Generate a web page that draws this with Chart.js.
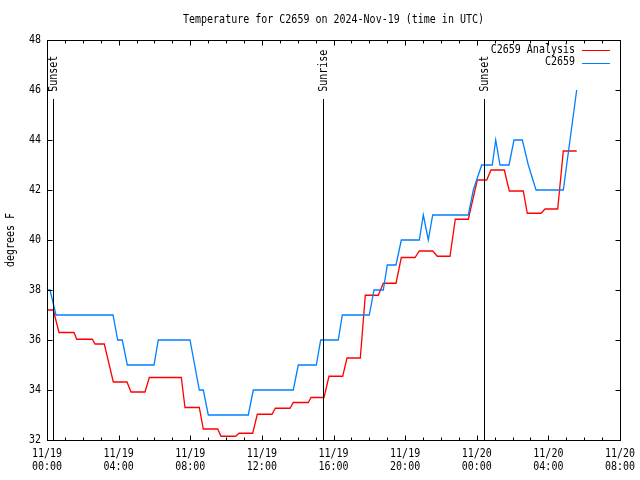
<!DOCTYPE html>
<html><head><meta charset="utf-8">
<script src="https://cdn.jsdelivr.net/npm/chart.js@4/dist/chart.umd.min.js"></script>
<style>html,body{margin:0;padding:0;background:#fff;}canvas{display:block;}</style>
</head><body>
<canvas id="c" width="640" height="480"></canvas>
<script>
// ---- data ----
const chartTitle = 'Temperature for C2659 on 2024-Nov-19 (time in UTC)';
const yAxisLabel = 'degrees F';
const seriesNames = ['C2659 Analysis', 'C2659'];

const analysisHours = [0, 0.352, 0.670, 1.508, 1.659, 2.530, 2.681, 3.200, 3.703, 4.468, 4.691, 5.473, 5.713, 7.500, 7.707, 8.505, 8.729, 9.533, 9.717, 10.538, 10.722, 11.488, 11.745, 12.566, 12.750, 13.571, 13.755, 14.593, 14.744, 15.470, 15.749, 16.514, 16.754, 17.497, 17.776, 18.502, 18.781, 19.491, 19.787, 20.552, 20.792, 21.540, 21.797, 22.506, 22.802, 23.528, 24.031, 24.556, 24.796, 25.539, 25.818, 26.600, 26.823, 27.588, 27.812, 28.521, 28.834, 29.582];
const analysisTemps = [37.2, 37.2, 36.3, 36.3, 36.03, 36.03, 35.84, 35.84, 34.32, 34.32, 33.92, 33.92, 34.5, 34.5, 33.3, 33.3, 32.44, 32.44, 32.15, 32.15, 32.27, 32.27, 33.03, 33.03, 33.27, 33.27, 33.5, 33.5, 33.7, 33.7, 34.55, 34.55, 35.28, 35.28, 37.79, 37.79, 38.27, 38.27, 39.3, 39.3, 39.56, 39.56, 39.35, 39.35, 40.83, 40.83, 42.4, 42.4, 42.8, 42.8, 41.96, 41.96, 41.07, 41.07, 41.24, 41.24, 43.56, 43.56];

const observedHours = [0, 0.168, 0.503, 3.686, 3.948, 4.205, 4.484, 5.976, 6.216, 7.986, 8.505, 8.729, 9.008, 11.242, 11.521, 13.755, 14.034, 15.040, 15.285, 16.268, 16.491, 17.999, 18.262, 18.781, 19.005, 19.491, 19.787, 20.792, 21.016, 21.295, 21.540, 23.528, 23.808, 24.277, 24.869, 25.059, 25.299, 25.802, 26.081, 26.545, 26.880, 27.310, 28.834, 29.582];
const observedTemps = [38.0, 38.0, 37.0, 37.0, 36.0, 36.0, 35.0, 35.0, 36.0, 36.0, 34.0, 34.0, 33.0, 33.0, 34.0, 34.0, 35.0, 35.0, 36.0, 36.0, 37.0, 37.0, 38.0, 38.0, 39.0, 39.0, 40.0, 40.0, 41.0, 40.0, 41.0, 41.0, 42.0, 43.0, 43.0, 44.0, 43.0, 43.0, 44.0, 44.0, 43.0, 42.0, 42.0, 46.0];

const xTickHours = [0, 4, 8, 12, 16, 20, 24, 28, 32];
const xTickDates = ['11/19', '11/19', '11/19', '11/19', '11/19', '11/19', '11/20', '11/20', '11/20'];
const xTickTimes = ['00:00', '04:00', '08:00', '12:00', '16:00', '20:00', '00:00', '04:00', '08:00'];
const yTickValues = [32, 34, 36, 38, 40, 42, 44, 46, 48];

const eventHours = [0.335, 15.41, 24.41];
const eventLabels = ['Sunset', 'Sunrise', 'Sunset'];

// ---- drawing ----
const FONT = '10px "DejaVu Sans Mono", "Liberation Mono", monospace';
const TEXT_STRETCH = 1.15;
const colors = ['#ff0000', '#0080ff'];

function pts(xs, ys) { return xs.map((x, i) => ({ x: x, y: ys[i] })); }

function txt(ctx, s, x, y, align, rot) {
  ctx.save();
  ctx.translate(x, y);
  if (rot) ctx.rotate(rot);
  ctx.scale(1, TEXT_STRETCH);
  ctx.textAlign = align;
  ctx.textBaseline = 'middle';
  ctx.fillText(s, 0, 0);
  ctx.restore();
}

const framePlugin = {
  id: 'frame',
  afterDatasetsDraw(chart) {
    const ctx = chart.ctx, a = chart.chartArea;
    const xs = chart.scales.x, ys = chart.scales.y;
    const L = Math.round(a.left) + 0.5, R = Math.round(a.right) + 0.5;
    const T = Math.round(a.top) + 0.5, B = Math.round(a.bottom) + 0.5;
    ctx.save();
    ctx.lineWidth = 1;
    ctx.strokeStyle = '#000';
    ctx.fillStyle = '#000';
    ctx.font = FONT;

    // event lines + labels
    const lineTopPx = ys.getPixelForValue(45.65);
    eventHours.forEach((h, i) => {
      const px = Math.round(xs.getPixelForValue(h)) + 0.5;
      ctx.beginPath();
      ctx.moveTo(px, B);
      ctx.lineTo(px, Math.round(lineTopPx));
      ctx.stroke();
      txt(ctx, eventLabels[i], px + 1, lineTopPx - 7, 'left', -Math.PI / 2);
    });

    // border
    ctx.strokeRect(L, T, R - L, B - T);

    // x ticks (minor every hour, major every 4)
    for (let h = xs.min; h <= xs.max; h += 1) {
      const px = Math.round(xs.getPixelForValue(h)) + 0.5;
      const len = xTickHours.includes(h) ? 5 : 3;
      ctx.beginPath();
      ctx.moveTo(px, B); ctx.lineTo(px, B - len);
      ctx.moveTo(px, T); ctx.lineTo(px, T + len);
      ctx.stroke();
    }
    // y ticks
    yTickValues.forEach(v => {
      const py = Math.round(ys.getPixelForValue(v)) + 0.5;
      ctx.beginPath();
      ctx.moveTo(L, py); ctx.lineTo(L + 5, py);
      ctx.moveTo(R, py); ctx.lineTo(R - 5, py);
      ctx.stroke();
    });

    // x labels
    xTickHours.forEach((h, i) => {
      const px = xs.getPixelForValue(h);
      txt(ctx, xTickDates[i], px, a.bottom + 14.5, 'center');
      txt(ctx, xTickTimes[i], px, a.bottom + 27, 'center');
    });
    // y labels
    yTickValues.forEach(v => {
      txt(ctx, String(v), a.left - 6, ys.getPixelForValue(v) + 0.5, 'right');
    });

    // y axis title
    txt(ctx, yAxisLabel, 11, (a.top + a.bottom) / 2, 'center', -Math.PI / 2);

    // title
    txt(ctx, chartTitle, (a.left + a.right) / 2, 20, 'center');

    // legend
    chart.data.datasets.forEach((ds, i) => {
      const y = a.top + 10 + i * 12.5;
      ctx.fillStyle = '#000';
      txt(ctx, ds.label, a.right - 45, y, 'right');
      ctx.strokeStyle = ds.borderColor;
      ctx.beginPath();
      ctx.moveTo(a.right - 38, Math.round(y) + 0.5);
      ctx.lineTo(a.right - 10, Math.round(y) + 0.5);
      ctx.stroke();
    });
    ctx.restore();
  }
};

new Chart(document.getElementById('c'), {
  type: 'line',
  data: {
    datasets: [
      { label: seriesNames[0], data: pts(analysisHours, analysisTemps), borderColor: colors[0], borderWidth: 1.3, pointRadius: 0, fill: false, order: 1 },
      { label: seriesNames[1], data: pts(observedHours, observedTemps), borderColor: colors[1], borderWidth: 1.3, pointRadius: 0, fill: false, order: 0 }
    ]
  },
  options: {
    responsive: false,
    animation: false,
    devicePixelRatio: 1,
    layout: { padding: { left: 47, right: 20, top: 40, bottom: 40 } },
    elements: { line: { tension: 0 } },
    scales: {
      x: { type: 'linear', min: 0, max: 32, display: false },
      y: { type: 'linear', min: 32, max: 48, display: false }
    },
    plugins: { legend: { display: false }, tooltip: { enabled: false }, title: { display: false } }
  },
  plugins: [framePlugin]
});
</script>
</body></html>
